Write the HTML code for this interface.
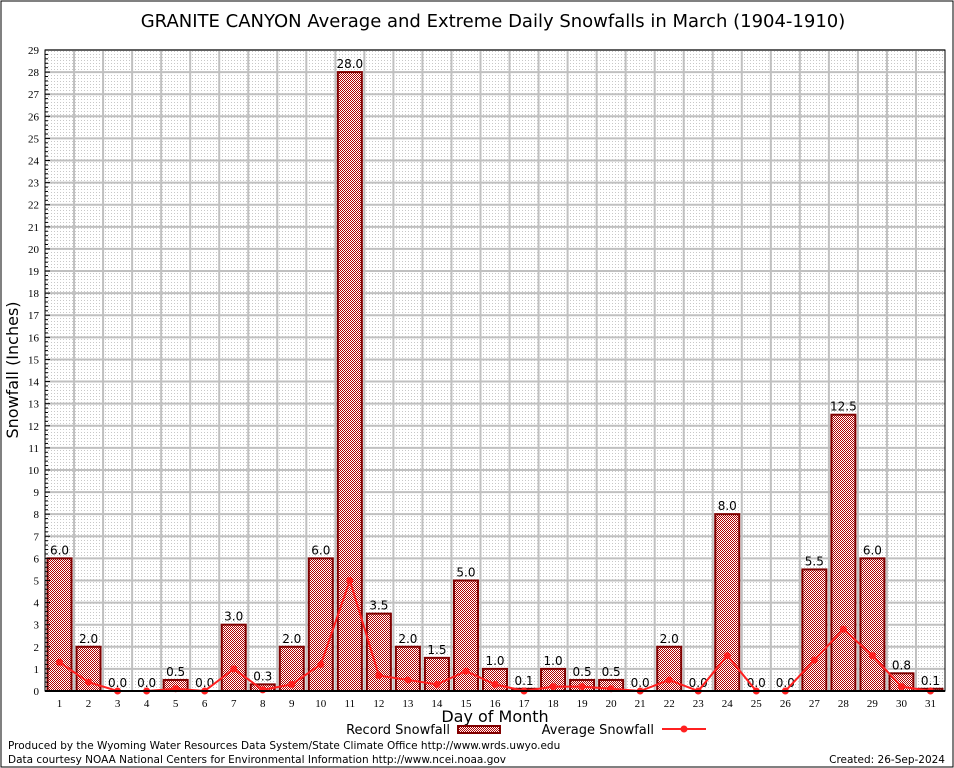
<!DOCTYPE html>
<html><head><meta charset="utf-8"><style>
body{margin:0;background:#fff;}
svg{display:block;font-family:"DejaVu Sans","Liberation Sans",sans-serif;}
</style></head><body>
<svg id="c" width="954" height="768" viewBox="0 0 954 768" xmlns="http://www.w3.org/2000/svg">
<defs>
<pattern id="dots" width="3" height="3" patternUnits="userSpaceOnUse"><rect x="0" y="0" width="1" height="1" fill="#c8c8c8"/></pattern>
<pattern id="check" width="2" height="2" patternUnits="userSpaceOnUse"><rect width="2" height="2" fill="#fff"/><rect width="1" height="1" fill="#b00000"/><rect x="1" y="1" width="1" height="1" fill="#b00000"/></pattern>
</defs>
<rect x="1" y="1" width="952" height="766" fill="#fff" stroke="#000" stroke-width="1"/>
<text x="493" y="27" text-anchor="middle" font-size="18" fill="#000">GRANITE CANYON Average and Extreme Daily Snowfalls in March (1904-1910)</text>
<rect x="45" y="50" width="900" height="641" fill="url(#dots)"/>
<g id="grid"></g>
<g id="bars"></g>
<g id="line"></g>
<g id="axes"></g>
<text x="18" y="370" text-anchor="middle" font-size="16" transform="rotate(-90 18 370)">Snowfall (Inches)</text>
<text x="495" y="722" text-anchor="middle" font-size="16">Day of Month</text>
<g>
<text x="450" y="734" text-anchor="end" font-size="13">Record Snowfall</text>
<rect x="458" y="726" width="42" height="7" fill="url(#check)" stroke="#800000" stroke-width="2"/>
</g>
<g>
<text x="654" y="734" text-anchor="end" font-size="13">Average Snowfall</text>
<line x1="662" y1="729" x2="706" y2="729" stroke="#ff2020" stroke-width="2"/>
<circle cx="684" cy="729" r="3.5" fill="#ff2020"/>
</g>
<text x="8" y="749" font-size="10.5">Produced by the Wyoming Water Resources Data System/State Climate Office http://www.wrds.uwyo.edu</text>
<text x="8" y="763" font-size="10.5">Data courtesy NOAA National Centers for Environmental Information http://www.ncei.noaa.gov</text>
<text x="945" y="763" text-anchor="end" font-size="10.5">Created:  26-Sep-2024</text>
</svg>
<script>
const days=[1,2,3,4,5,6,7,8,9,10,11,12,13,14,15,16,17,18,19,20,21,22,23,24,25,26,27,28,29,30,31];
const recordVals=[6.0,2.0,0.0,0.0,0.5,0.0,3.0,0.3,2.0,6.0,28.0,3.5,2.0,1.5,5.0,1.0,0.1,1.0,0.5,0.5,0.0,2.0,0.0,8.0,0.0,0.0,5.5,12.5,6.0,0.8,0.1];
const avgVals=[1.3,0.4,0.0,0.0,0.1,0.0,1.0,0.05,0.3,1.2,5.0,0.7,0.5,0.3,0.9,0.3,0.0,0.2,0.2,0.1,0.0,0.5,0.0,1.6,0.0,0.0,1.4,2.8,1.6,0.2,0.0];
const yTicks=[0,1,2,3,4,5,6,7,8,9,10,11,12,13,14,15,16,17,18,19,20,21,22,23,24,25,26,27,28,29];
const NS="http://www.w3.org/2000/svg";
const L=45,R=945,T=50,B=691,ymax=29;
const xs=d=>L+(d-0.5)*(R-L)/31;
const ys=v=>B-v*(B-T)/ymax;
function mk(tag,attrs,parent,txt){const e=document.createElementNS(NS,tag);for(const k in attrs)e.setAttribute(k,attrs[k]);if(txt!==undefined)e.textContent=txt;document.getElementById(parent).appendChild(e);return e;}
yTicks.forEach(v=>{
  const g=mk('line',{x1:L,x2:R,y1:ys(v),y2:ys(v),stroke:'#c0c0c0','stroke-width':2},'grid');
  
  
  const t=mk('text',{x:L-6,y:ys(v)+4,'text-anchor':'end','font-size':11,'font-family':'Liberation Serif,serif'},'axes',String(v));
  
  
  mk('line',{x1:L,x2:L+5,y1:ys(v),y2:ys(v),stroke:'#000'},'axes');
  if(v<ymax){for(let k=1;k<5;k++){mk('line',{x1:L,x2:L+3,y1:ys(v+k/5),y2:ys(v+k/5),stroke:'#000'},'axes');}}
});
days.forEach((d,i)=>{
  if(i>0){const g=mk('line',{x1:xs(d)-14.5,x2:xs(d)-14.5,y1:T,y2:B,stroke:'#c0c0c0','stroke-width':2},'grid');
  
  }
  const t=mk('text',{x:xs(d),y:B+16,'text-anchor':'middle','font-size':11,'font-family':'Liberation Serif,serif'},'axes',String(d));
  
  
  const v=recordVals[i];
  const h=B-ys(v);
  if(h>0.5){const b=mk('rect',{x:xs(d)-12,y:ys(v),width:24,height:h,fill:'url(#check)',stroke:'#800000','stroke-width':2},'bars');
  
  }
  const lb=mk('text',{x:xs(d),y:ys(v)-4,'text-anchor':'middle','font-size':12},'bars',v.toFixed(1));
  
  
});
mk('rect',{x:L,y:T,width:R-L,height:B-T,fill:'none',stroke:'#000','stroke-width':1},'axes');
mk('line',{x1:L,x2:R,y1:B,y2:B,stroke:'#000','stroke-width':2},'axes');
const pts=days.map((d,i)=>xs(d)+','+ys(avgVals[i])).join(' ');
const pl=mk('polyline',{points:pts,fill:'none',stroke:'#ff2020','stroke-width':2},'line');


days.forEach((d,i)=>{
  const c=mk('circle',{cx:xs(d),cy:ys(avgVals[i]),r:3.5,fill:'#ff2020'},'line');
  
  
});
</script>
</body></html>
